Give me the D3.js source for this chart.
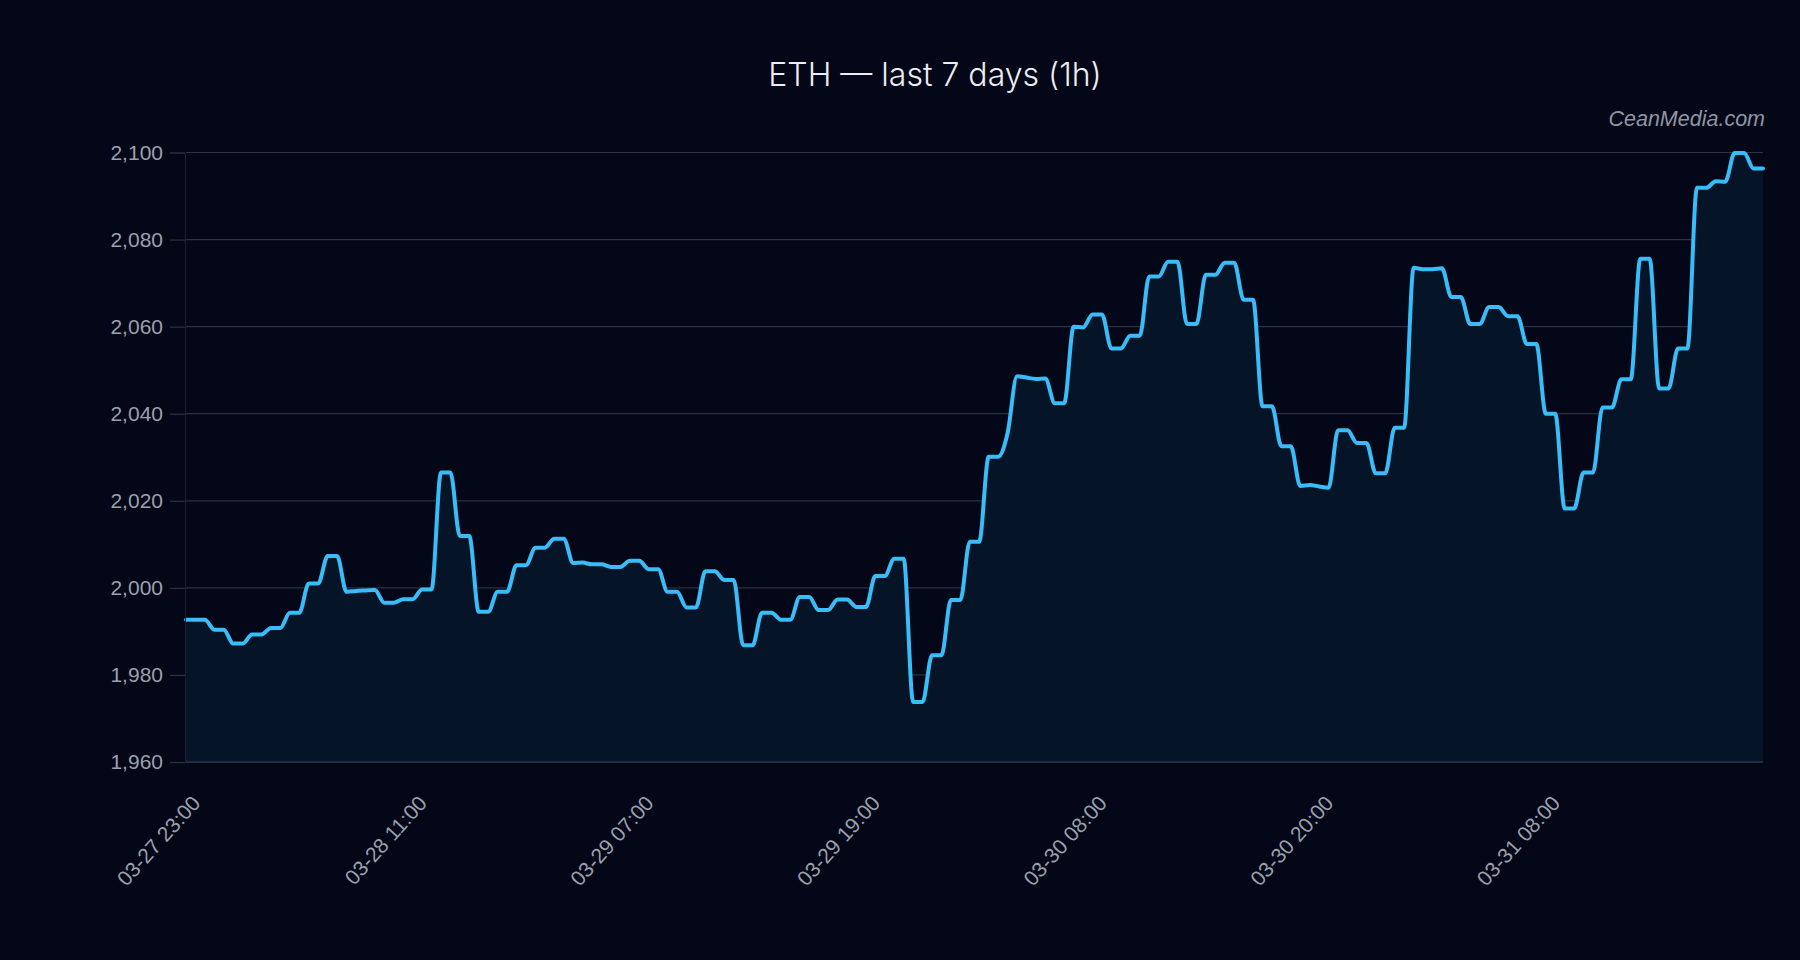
<!DOCTYPE html>
<html>
<head>
<meta charset="utf-8">
<script src="https://cdn.jsdelivr.net/npm/d3@7/dist/d3.min.js"></script>
<style>
  html, body { margin: 0; padding: 0; background: #030718; }
  svg { display: block; }
</style>
</head>
<body>
<svg id="chart" width="1800" height="960"></svg>
<script>
// ---- data ----
const title = "ETH — last 7 days (1h)";
const watermark = "CeanMedia.com";
const tickLabels = ["03-27 23:00", "03-28 11:00", "03-29 07:00", "03-29 19:00", "03-30 08:00", "03-30 20:00", "03-31 08:00"];
const tickEvery = 24;
const yTicks = [1960, 1980, 2000, 2020, 2040, 2060, 2080, 2100];
const prices = [
  1992.7, 1992.7, 1992.7, 1990.4, 1990.4, 1987.2, 1987.2, 1989.3, 1989.3, 1990.8,
  1990.8, 1994.3, 1994.3, 2001.0, 2001.0, 2007.3, 2007.3, 1999.1, 1999.3, 1999.4,
  1999.5, 1996.6, 1996.6, 1997.4, 1997.4, 1999.6, 1999.6, 2026.5, 2026.5, 2011.9,
  2011.9, 1994.5, 1994.5, 1999.1, 1999.1, 2005.2, 2005.2, 2009.2, 2009.2, 2011.3,
  2011.3, 2005.7, 2005.8, 2005.4, 2005.4, 2004.8, 2004.8, 2006.2, 2006.2, 2004.3,
  2004.3, 1999.1, 1999.1, 1995.5, 1995.5, 2003.8, 2003.8, 2001.8, 2001.8, 1986.8,
  1986.8, 1994.3, 1994.3, 1992.7, 1992.7, 1997.9, 1997.9, 1994.9, 1994.9, 1997.3,
  1997.3, 1995.6, 1995.6, 2002.7, 2002.7, 2006.7, 2006.7, 1973.8, 1973.8, 1984.5,
  1984.5, 1997.2, 1997.2, 2010.6, 2010.6, 2030.1, 2030.1, 2035.5, 2048.6, 2048.3,
  2048.0, 2048.1, 2042.4, 2042.4, 2060.0, 2059.8, 2062.8, 2062.8, 2055.0, 2055.0,
  2057.9, 2057.9, 2071.5, 2071.5, 2074.9, 2074.9, 2060.6, 2060.6, 2071.9, 2071.9,
  2074.7, 2074.7, 2066.2, 2066.2, 2041.7, 2041.7, 2032.5, 2032.5, 2023.4, 2023.6,
  2023.3, 2023.0, 2036.2, 2036.2, 2033.3, 2033.3, 2026.3, 2026.3, 2036.8, 2036.8,
  2073.5, 2073.2, 2073.2, 2073.4, 2066.8, 2066.8, 2060.6, 2060.6, 2064.5, 2064.5,
  2062.4, 2062.4, 2056.0, 2056.0, 2040.0, 2040.0, 2018.2, 2018.2, 2026.5, 2026.5,
  2041.4, 2041.4, 2047.9, 2047.9, 2075.6, 2075.6, 2045.8, 2045.8, 2055.0, 2055.0,
  2091.9, 2091.9, 2093.4, 2093.3, 2099.9, 2099.9, 2096.3, 2096.3
];

// ---- layout ----
const W = 1800, H = 960;
const m = { left: 186, right: 37, top: 152.5, bottom: 198 };
const svg = d3.select("#chart");
svg.append("rect").attr("width", W).attr("height", H).attr("fill", "#030718");

const x = d3.scaleLinear().domain([0, prices.length - 1]).range([m.left, W - m.right]);
const y = d3.scaleLinear().domain([1960, 2100]).range([H - m.bottom, m.top]);

// grid
const grid = svg.append("g");
grid.selectAll("line").data(yTicks).join("line")
  .attr("x1", m.left).attr("x2", W - m.right)
  .attr("y1", d => y(d)).attr("y2", d => y(d))
  .attr("stroke", "#2b3240").attr("stroke-width", 1.2);

// area + line
const curve = d3.curveMonotoneX;
const area = d3.area().x((d, i) => x(i)).y0(y(1960)).y1(d => y(d)).curve(curve);
const line = d3.line().x((d, i) => x(i)).y(d => y(d)).curve(curve);

svg.append("path").datum(prices).attr("d", area).attr("fill", "#061427");
svg.append("line")
  .attr("x1", m.left).attr("x2", W - m.right)
  .attr("y1", y(1960)).attr("y2", y(1960))
  .attr("stroke", "#26364a").attr("stroke-width", 1.5);
svg.append("path").datum(prices).attr("d", line)
  .attr("fill", "none").attr("stroke", "#38bdf8").attr("stroke-width", 4)
  .attr("stroke-linejoin", "round").attr("stroke-linecap", "round");

// y axis
const yAxis = d3.axisLeft(y).tickValues(yTicks).tickFormat(d3.format(",")).tickSize(15).tickPadding(7);
const gy = svg.append("g").attr("transform", `translate(${m.left - 1},0)`).call(yAxis);
gy.select(".domain").attr("stroke", "#1a2130");
gy.selectAll(".tick line").attr("stroke", "#2b3240").attr("stroke-width", 1.2);
gy.selectAll(".tick text").attr("fill", "#9aa1ad").style("font-family", "'Liberation Sans', Arial, sans-serif").style("font-size", "21px");

// x axis labels
const xTickIdx = tickLabels.map((_, i) => i * tickEvery);
const xAxis = d3.axisBottom(x).tickValues(xTickIdx).tickFormat((d, i) => tickLabels[i]).tickSize(0);
const gx = svg.append("g").attr("transform", `translate(0,${y(1960)})`).call(xAxis);
gx.select(".domain").remove();
gx.selectAll(".tick text")
  .attr("fill", "#9aa1ad")
  .style("font-family", "'Liberation Sans', Arial, sans-serif").style("font-size", "21px")
  .attr("text-anchor", "end")
  .attr("x", 0).attr("y", 0).attr("dy", 0)
  .attr("transform", "translate(15,42) rotate(-48)");

// title
svg.append("text").attr("x", 935).attr("y", 86).attr("text-anchor", "middle")
  .attr("fill", "#eceef2").style("font-family", "Inter, 'Liberation Sans', sans-serif").style("font-size", "32px").style("font-weight", "300")
  .text(title);

// watermark
svg.append("text").attr("x", W - m.right + 2).attr("y", 126).attr("text-anchor", "end")
  .attr("fill", "#8f96a3").style("font-family", "'Liberation Sans', Arial, sans-serif").style("font-size", "21.5px").style("font-style", "italic")
  .text(watermark);
</script>
</body>
</html>
